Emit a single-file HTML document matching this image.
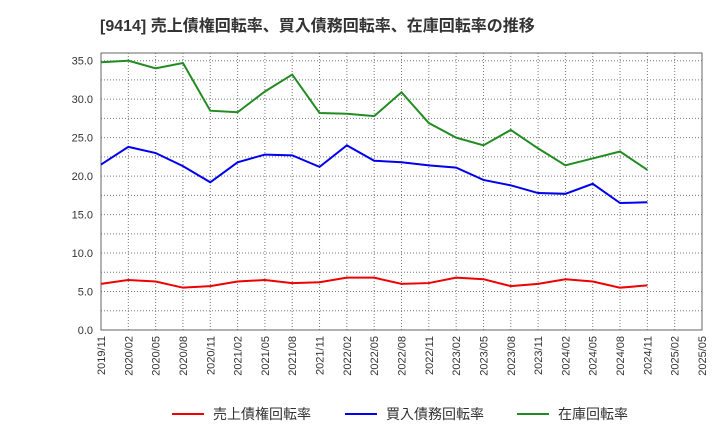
<!DOCTYPE html>
<html><head><meta charset="utf-8"><style>
body{margin:0;background:#fff;}
svg text{font-family:"Liberation Sans","Noto Sans CJK JP",sans-serif;}
</style></head><body>
<svg id="c" width="720" height="440" viewBox="0 0 720 440">
<text x="100" y="31" font-size="16" font-weight="bold" fill="#333">[9414]  売上債権回転率、買入債務回転率、在庫回転率の推移</text>
<g id="grid"></g><g id="axes"></g><g id="series"></g><g id="legend"></g>
</svg>
<script>
const categories=["2019/11","2020/02","2020/05","2020/08","2020/11","2021/02","2021/05","2021/08","2021/11","2022/02","2022/05","2022/08","2022/11","2023/02","2023/05","2023/08","2023/11","2024/02","2024/05","2024/08","2024/11","2025/02","2025/05"];
const receivables=[6.0,6.5,6.3,5.5,5.7,6.3,6.5,6.1,6.2,6.8,6.8,6.0,6.1,6.8,6.6,5.7,6.0,6.6,6.3,5.5,5.8];
const payables=[21.5,23.8,23.0,21.3,19.2,21.8,22.8,22.7,21.2,24.0,22.0,21.8,21.4,21.1,19.5,18.8,17.8,17.7,19.0,16.5,16.6];
const inventory=[34.8,35.0,34.0,34.7,28.5,28.3,31.0,33.2,28.2,28.1,27.8,30.9,26.9,25.0,24.0,26.0,23.6,21.4,22.3,23.2,20.8];
const yTicks=[0,5,10,15,20,25,30,35];
const NS="http://www.w3.org/2000/svg";
const L=101,R=702,T=53,B=330,YMAX=36;
const x=i=>L+i*(R-L)/(categories.length-1);
const y=v=>B-v*(B-T)/YMAX;
function mk(tag,attrs,parent){const e=document.createElementNS(NS,tag);for(const k in attrs)e.setAttribute(k,attrs[k]);document.getElementById(parent).appendChild(e);return e;}
for(let v=0;v<=YMAX;v+=2.5){const l=mk('line',{x1:L,x2:R,y1:y(v),y2:y(v),stroke:'#777','stroke-dasharray':'1,2','stroke-width':1},'grid');

}
categories.forEach((c,i)=>{const l=mk('line',{x1:x(i),x2:x(i),y1:T,y2:B,stroke:'#777','stroke-dasharray':'1,2','stroke-width':1},'grid');


const t=mk('text',{x:0,y:0,'font-size':11,fill:'#333','text-anchor':'end',transform:`translate(${x(i)+4},${B+6}) rotate(-90)`},'axes');t.textContent=c;

});
yTicks.forEach(v=>{const t=mk('text',{x:93,y:y(v)+4,'font-size':11,fill:'#333','text-anchor':'end'},'axes');t.textContent=v.toFixed(1);

});
const fr=mk('rect',{x:L,y:T,width:R-L,height:B-T,fill:'none',stroke:'#666'},'axes');


const S=[[receivables,'#e00','売上債権回転率','receivables-line'],[payables,'#00e','買入債務回転率','payables-line'],[inventory,'#228b22','在庫回転率','inventory-line']];
const lx=[172,345,517];
S.forEach((s,k)=>{const p=mk('polyline',{points:s[0].map((v,i)=>x(i)+','+y(v)).join(' '),fill:'none',stroke:s[1],'stroke-width':2},'series');


const ll=mk('line',{x1:lx[k],x2:lx[k]+32,y1:414,y2:414,stroke:s[1],'stroke-width':2},'legend');


const t=mk('text',{x:lx[k]+41,y:419,'font-size':14,fill:'#333'},'legend');t.textContent=s[2];

});
</script>
</body></html>
